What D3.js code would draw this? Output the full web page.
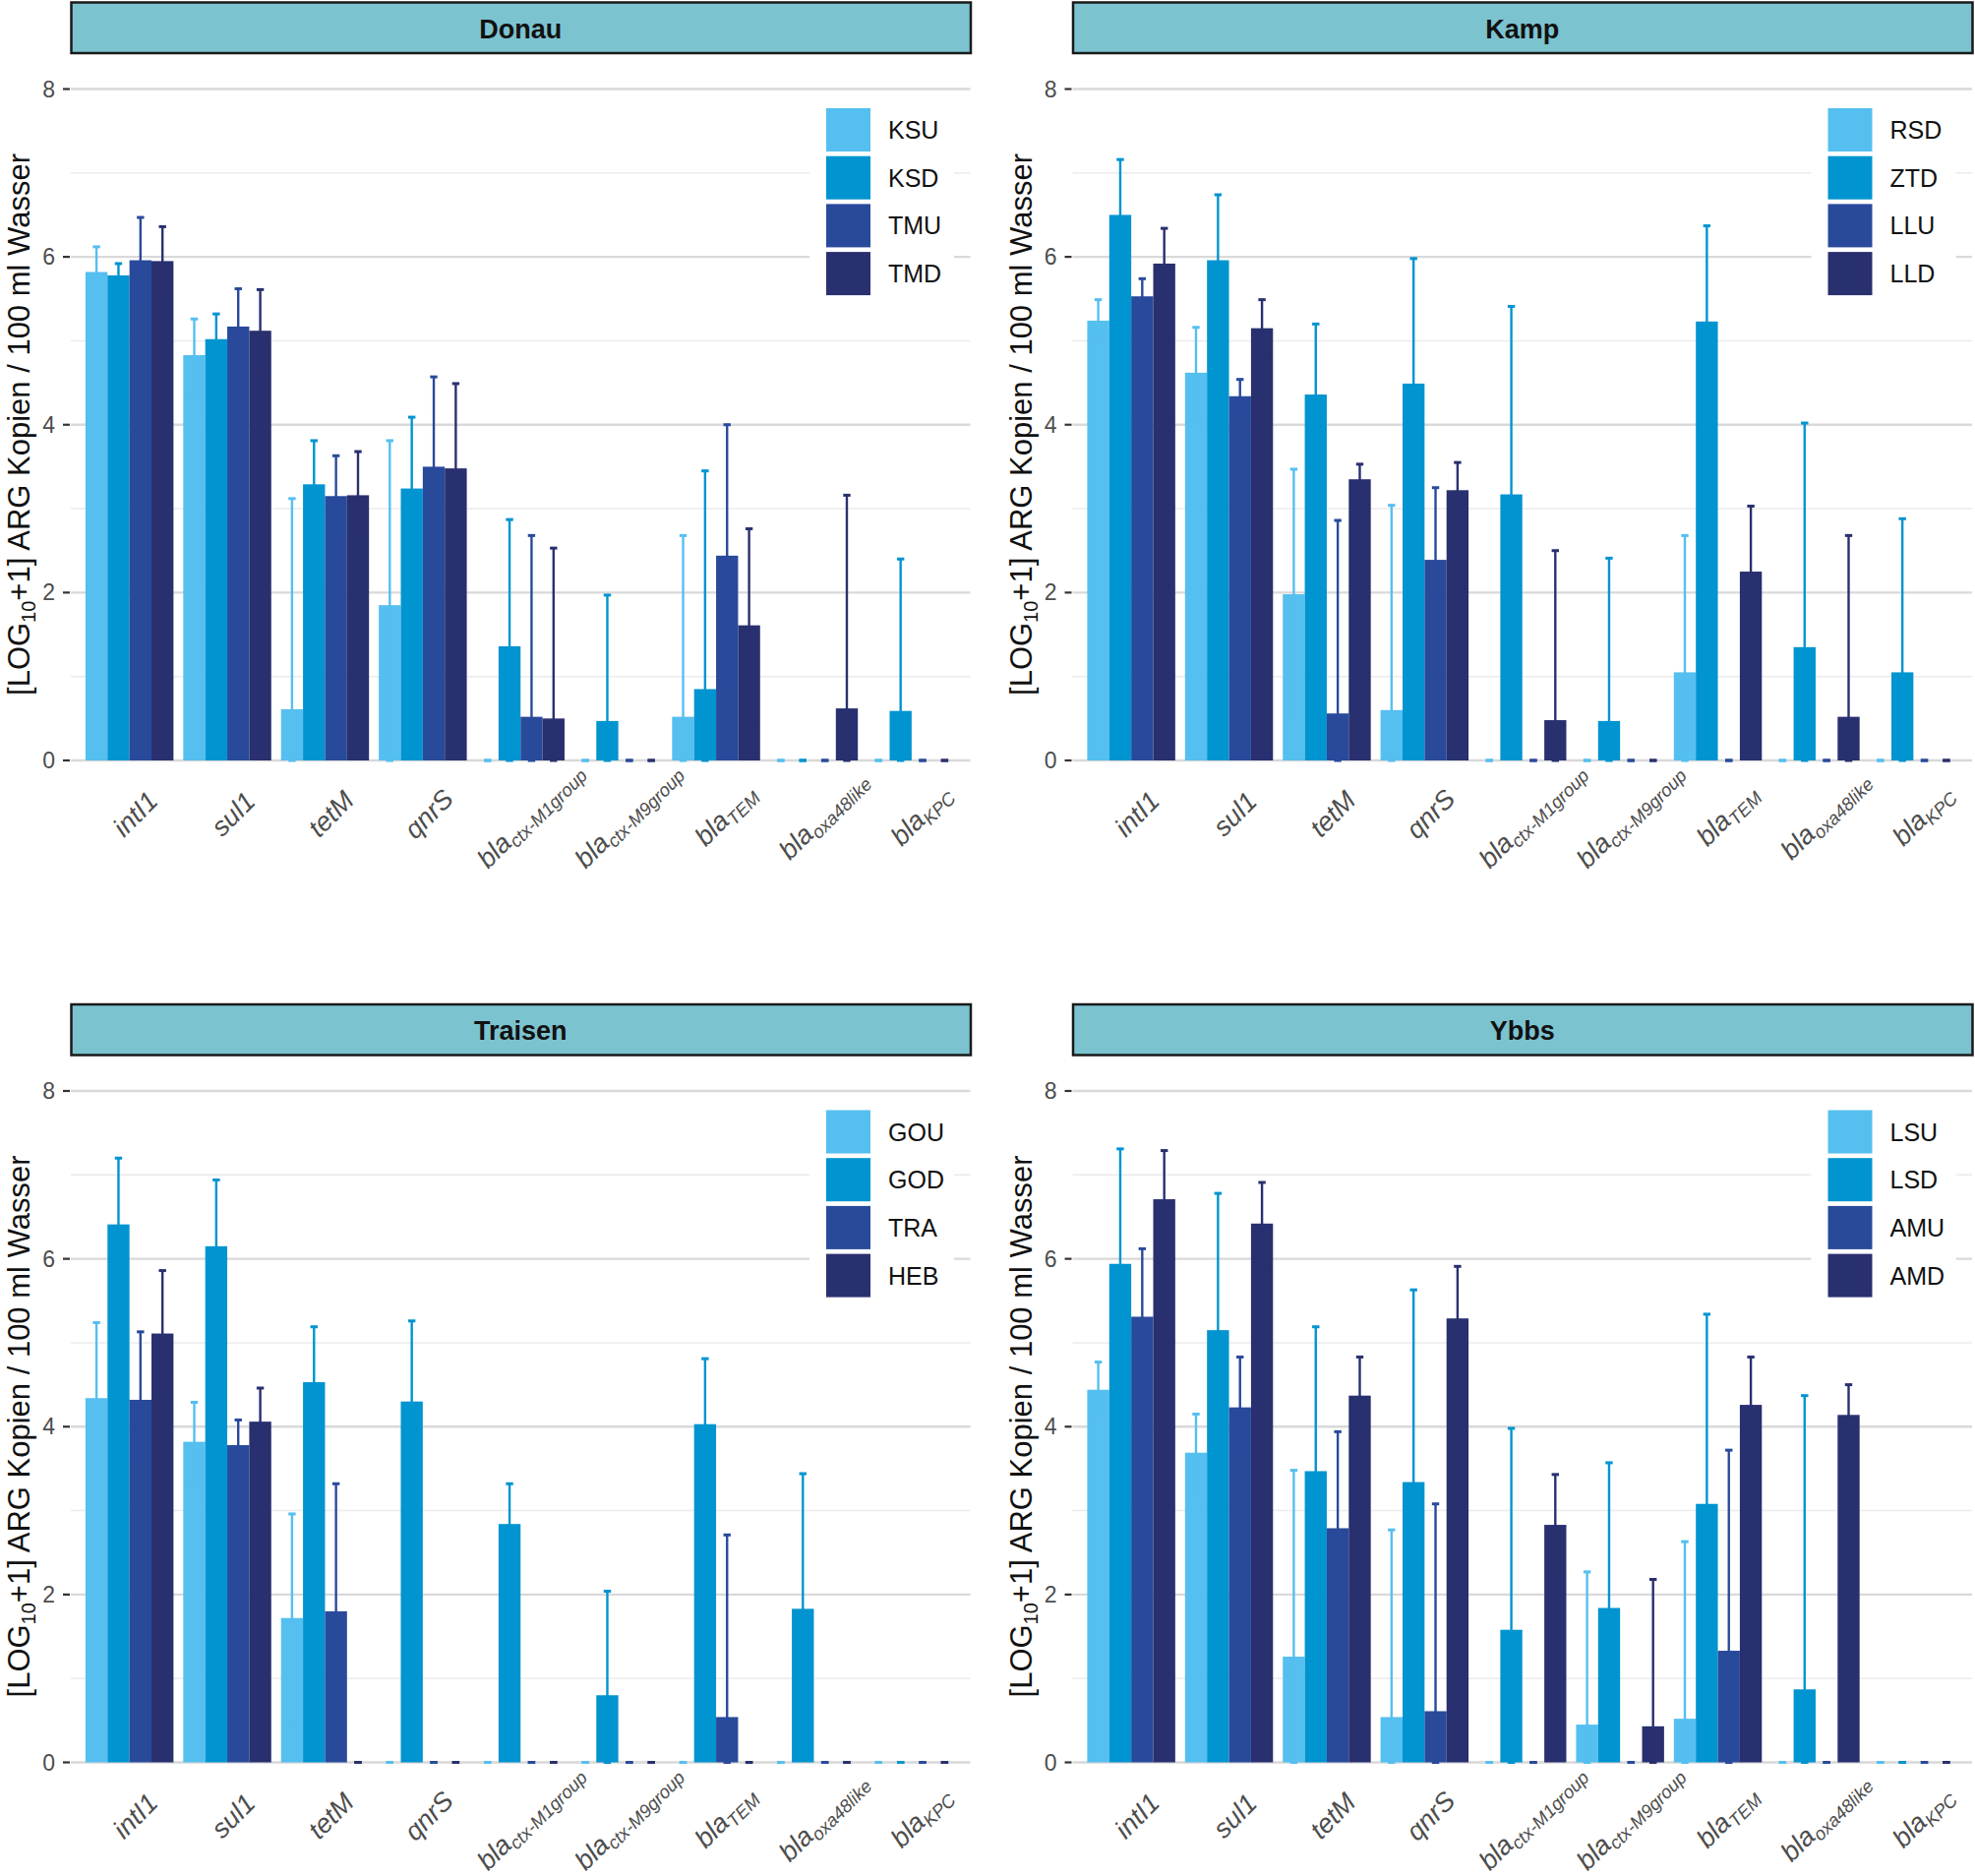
<!DOCTYPE html>
<html>
<head>
<meta charset="utf-8">
<script src="https://cdn.jsdelivr.net/npm/d3@7"></script>
<style>
  body { margin: 0; background: #fff; }
  text { font-family: "Liberation Sans", Arial, sans-serif; }
</style>
</head>
<body>
<svg id="chart" width="2008" height="1907"></svg>
<script>
// genes on the x axis, label = [main, subscript]
var genes = ["intI1", "sul1", "tetM", "qnrS", "ctxM1", "ctxM9", "TEM", "oxa48", "KPC"];
var geneLabels = [
  ["intI1", ""], ["sul1", ""], ["tetM", ""], ["qnrS", ""],
  ["bla", "ctx-M1group"], ["bla", "ctx-M9group"], ["bla", "TEM"],
  ["bla", "oxa48like"], ["bla", "KPC"]
];
var yTicks = [0, 2, 4, 6, 8];
var colors = ["#55bfef", "#0094d0", "#294a9b", "#29306f"];

var rivers = ["Donau", "Kamp", "Traisen", "Ybbs"];

// Donau
var donauSites = ["KSU", "KSD", "TMU", "TMD"];
var donauMean = [
  [5.82, 4.83, 0.61, 1.85, 0, 0, 0.52, 0, 0],
  [5.78, 5.02, 3.29, 3.24, 1.36, 0.47, 0.85, 0, 0.59],
  [5.96, 5.17, 3.15, 3.50, 0.52, 0, 2.44, 0, 0],
  [5.95, 5.12, 3.16, 3.48, 0.50, 0, 1.61, 0.62, 0]
];
var donauUpper = [
  [6.12, 5.26, 3.12, 3.81, 0, 0, 2.68, 0, 0],
  [5.92, 5.32, 3.81, 4.09, 2.87, 1.97, 3.45, 0, 2.40],
  [6.47, 5.62, 3.63, 4.57, 2.68, 0, 4.00, 0, 0],
  [6.36, 5.61, 3.68, 4.49, 2.53, 0, 2.76, 3.16, 0]
];

// Kamp
var kampSites = ["RSD", "ZTD", "LLU", "LLD"];
var kampMean = [
  [5.24, 4.62, 1.98, 0.60, 0, 0, 1.05, 0, 0],
  [6.50, 5.96, 4.36, 4.49, 3.17, 0.47, 5.23, 1.35, 1.05],
  [5.53, 4.34, 0.56, 2.39, 0, 0, 0, 0, 0],
  [5.92, 5.15, 3.35, 3.22, 0.48, 0, 2.25, 0.52, 0]
];
var kampUpper = [
  [5.49, 5.16, 3.47, 3.04, 0, 0, 2.68, 0, 0],
  [7.16, 6.74, 5.20, 5.98, 5.41, 2.41, 6.37, 4.02, 2.88],
  [5.74, 4.54, 2.86, 3.25, 0, 0, 0, 0, 0],
  [6.34, 5.49, 3.53, 3.55, 2.50, 0, 3.03, 2.68, 0]
];

// Traisen
var traisenSites = ["GOU", "GOD", "TRA", "HEB"];
var traisenMean = [
  [4.34, 3.82, 1.72, 0, 0, 0, 0, 0, 0],
  [6.41, 6.15, 4.53, 4.30, 2.84, 0.80, 4.03, 1.83, 0],
  [4.32, 3.78, 1.80, 0, 0, 0, 0.54, 0, 0],
  [5.11, 4.06, 0, 0, 0, 0, 0, 0, 0]
];
var traisenUpper = [
  [5.24, 4.29, 2.96, 0, 0, 0, 0, 0, 0],
  [7.20, 6.94, 5.19, 5.26, 3.32, 2.04, 4.81, 3.44, 0],
  [5.13, 4.08, 3.32, 0, 0, 0, 2.71, 0, 0],
  [5.86, 4.46, 0, 0, 0, 0, 0, 0, 0]
];

// Ybbs
var ybbsSites = ["LSU", "LSD", "AMU", "AMD"];
var ybbsMean = [
  [4.44, 3.69, 1.26, 0.54, 0, 0.45, 0.52, 0, 0],
  [5.94, 5.15, 3.47, 3.34, 1.58, 1.84, 3.08, 0.87, 0],
  [5.31, 4.23, 2.79, 0.61, 0, 0, 1.33, 0, 0],
  [6.71, 6.42, 4.37, 5.29, 2.83, 0.43, 4.26, 4.14, 0]
];
var ybbsUpper = [
  [4.77, 4.15, 3.48, 2.77, 0, 2.27, 2.63, 0, 0],
  [7.31, 6.78, 5.19, 5.63, 3.98, 3.57, 5.34, 4.37, 0],
  [6.12, 4.83, 3.94, 3.08, 0, 0, 3.72, 0, 0],
  [7.29, 6.91, 4.83, 5.91, 3.43, 2.18, 4.83, 4.50, 0]
];

var panels = [
  { name: rivers[0], sites: donauSites, mean: donauMean, upper: donauUpper, col: 0, row: 0 },
  { name: rivers[1], sites: kampSites, mean: kampMean, upper: kampUpper, col: 1, row: 0 },
  { name: rivers[2], sites: traisenSites, mean: traisenMean, upper: traisenUpper, col: 0, row: 1 },
  { name: rivers[3], sites: ybbsSites, mean: ybbsMean, upper: ybbsUpper, col: 1, row: 1 }
];

var svg = d3.select('#chart');
svg.append('rect').attr('width', 2008).attr('height', 1907).attr('fill', '#fff');

var colStep = 1018.5, rowStep = 1018.5;
var panelW = 914.5;

panels.forEach(function(p) {
  var ox = 72 + p.col * colStep;
  var oy = p.row * rowStep;
  var g = svg.append('g').attr('transform', 'translate(' + ox + ',' + oy + ')');

  var x0 = d3.scaleBand().domain(genes).range([0, panelW])
    .paddingInner(0.1).paddingOuter(0.15);
  var x1 = d3.scaleBand().domain(p.sites).range([0, x0.bandwidth()]);
  var y = d3.scaleLinear().domain([0, 8]).range([773, 90.5]);

  // strip
  g.append('rect')
    .attr('x', 0.5).attr('y', 2.5)
    .attr('width', panelW).attr('height', 51.5)
    .attr('fill', '#7cc3d0').attr('stroke', '#1a1a1a').attr('stroke-width', 2.5);
  g.append('text')
    .attr('x', panelW / 2).attr('y', 38.5)
    .attr('text-anchor', 'middle')
    .attr('font-size', 27).attr('font-weight', 'bold').attr('fill', '#111')
    .text(p.name);

  // gridlines
  g.selectAll('line.minor')
    .data([1, 3, 5, 7])
    .enter().append('line')
      .attr('class', 'minor')
      .attr('x1', 0).attr('x2', panelW)
      .attr('y1', function(d) { return y(d); })
      .attr('y2', function(d) { return y(d); })
      .attr('stroke', '#ebebeb').attr('stroke-width', 1.4);
  g.selectAll('line.major')
    .data(yTicks)
    .enter().append('line')
      .attr('class', 'major')
      .attr('x1', 0).attr('x2', panelW)
      .attr('y1', function(d) { return y(d); })
      .attr('y2', function(d) { return y(d); })
      .attr('stroke', '#d9d9d9').attr('stroke-width', 2.4);

  // y axis ticks + labels
  var yAxis = g.append('g');
  yAxis.selectAll('line')
    .data(yTicks)
    .enter().append('line')
      .attr('x1', -8).attr('x2', -1)
      .attr('y1', function(d) { return y(d); })
      .attr('y2', function(d) { return y(d); })
      .attr('stroke', '#333').attr('stroke-width', 2.2);
  yAxis.selectAll('text')
    .data(yTicks)
    .enter().append('text')
      .attr('x', -16)
      .attr('y', function(d) { return y(d) + 8; })
      .attr('text-anchor', 'end')
      .attr('font-size', 23).attr('fill', '#4d4d4d')
      .text(function(d) { return d; });

  // y title
  var yt = g.append('text')
    .attr('transform', 'translate(-42,' + 431.5 + ') rotate(-90)')
    .attr('text-anchor', 'middle')
    .attr('font-size', 31).attr('fill', '#111');
  yt.append('tspan').text('[LOG');
  yt.append('tspan').attr('font-size', 20).attr('dy', 6).text('10');
  yt.append('tspan').attr('dy', -6).text('+1] ARG Kopien / 100 ml Wasser');

  // legend background + keys
  g.append('rect')
    .attr('x', 751).attr('y', 96).attr('width', 147).attr('height', 220)
    .attr('fill', '#fff');
  var leg = g.selectAll('g.key')
    .data(p.sites)
    .enter().append('g')
      .attr('class', 'key')
      .attr('transform', function(d, i) { return 'translate(768,' + (110 + i * 48.7) + ')'; });
  leg.append('rect')
    .attr('width', 45).attr('height', 44)
    .attr('fill', function(d, i) { return colors[i]; });
  leg.append('text')
    .attr('x', 63).attr('y', 31)
    .attr('font-size', 25).attr('fill', '#111')
    .text(function(d) { return d; });

  // bars, one layer per site
  var layers = g.selectAll('g.layer')
    .data(p.sites)
    .enter().append('g')
      .attr('class', 'layer')
      .attr('fill', function(d, i) { return colors[i]; })
      .attr('stroke', function(d, i) { return colors[i]; });

  layers.selectAll('rect')
    .data(function(d, i) {
      return genes.map(function(gn, j) {
        return { gene: gn, site: d, v: p.mean[i][j], up: p.upper[i][j] };
      });
    })
    .enter().append('rect')
      .attr('x', function(d) { return x0(d.gene) + x1(d.site); })
      .attr('width', x1.bandwidth())
      .attr('y', function(d) { return y(d.v); })
      .attr('height', function(d) { return y(0) - y(d.v); })
      .attr('stroke', 'none');

  // error bars: mean +/- sd, lower end cut at 0
  var eb = layers.selectAll('g.err')
    .data(function(d, i) {
      return genes.map(function(gn, j) {
        var m = p.mean[i][j], u = p.upper[i][j];
        return { gene: gn, site: d, lo: Math.max(0, 2 * m - u), up: u };
      });
    })
    .enter().append('g')
      .attr('class', 'err')
      .attr('stroke-width', 2.4)
      .attr('fill', 'none');
  function cx(d) { return x0(d.gene) + x1(d.site) + x1.bandwidth() / 2; }
  eb.append('line')
    .attr('x1', cx).attr('x2', cx)
    .attr('y1', function(d) { return y(d.lo); })
    .attr('y2', function(d) { return y(d.up); });
  eb.append('line')
    .attr('x1', function(d) { return cx(d) - 3.7; })
    .attr('x2', function(d) { return cx(d) + 3.7; })
    .attr('y1', function(d) { return y(d.up); })
    .attr('y2', function(d) { return y(d.up); })
    .attr('stroke-width', 3);
  eb.append('line')
    .attr('x1', function(d) { return cx(d) - 3.7; })
    .attr('x2', function(d) { return cx(d) + 3.7; })
    .attr('y1', function(d) { return y(d.lo); })
    .attr('y2', function(d) { return y(d.lo); })
    .attr('stroke-width', 3);

  // x labels, italic, rotated 45
  var xl = g.selectAll('text.xlab')
    .data(genes)
    .enter().append('text')
      .attr('class', 'xlab')
      .attr('text-anchor', 'middle')
      .attr('font-size', 27).attr('font-style', 'italic').attr('fill', '#4d4d4d')
      .attr('transform', function(d, j) {
        var c = x0(d) + x0.bandwidth() / 2;
        var sub = geneLabels[j][1] !== '';
        var ax = c + (sub ? 16 : 12.5);
        var ay = sub ? 835 : 834;
        return 'translate(' + ax + ',' + ay + ') rotate(-45)';
      });
  xl.append('tspan').text(function(d, j) { return geneLabels[j][0]; });
  xl.append('tspan')
    .attr('font-size', 18.5).attr('dy', 5.5)
    .text(function(d, j) { return geneLabels[j][1]; });
});
</script>
</body>
</html>
